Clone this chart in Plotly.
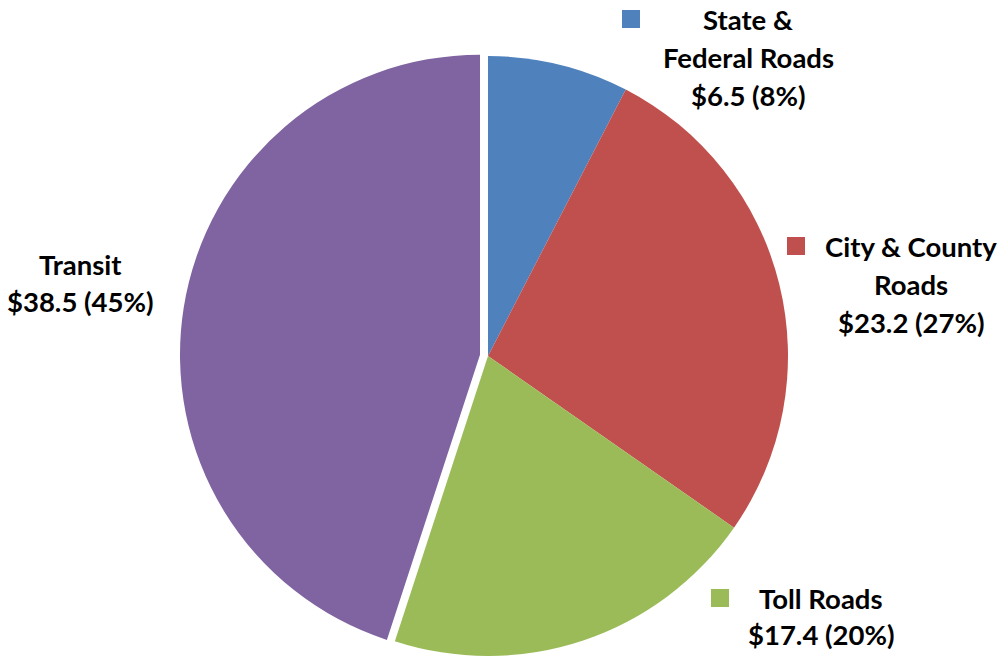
import plotly.graph_objects as go

# ---- data ----
categories = ["State & Federal Roads", "City & County Roads", "Toll Roads", "Transit"]
label_lines = [["State &", "Federal Roads"], ["City & County", "Roads"], ["Toll Roads"], ["Transit"]]
values = [6.5, 23.2, 17.4, 38.5]

# ---- styles / layout ----
colors = ["#4F81BD", "#C0504D", "#9BBB59", "#8064A2"]
W, H = 1001, 656
cx, cy, r = 488, 356, 300          # pie centre and radius (px)
explode_idx = 3                     # Transit slice is pulled out
ex_dx, ex_dy = -8, -1.3             # offset of the pulled slice (px)
# label anchors: (centre x, [baselines], square top-left or None)
label_pos = [(748, [30, 68, 106], (622, 10)),
             (911, [257, 295, 333], (787, 237)),
             (821, [609, 645], (711, 589)),
             (80, [275, 312], None)]
sq = 18
fs = 27.5
font = dict(family="Lato", size=fs, color="#000000", weight="bold")


def dom(x, y, rad):
    return dict(x=[max(0, (x - rad) / W), min(1, (x + rad) / W)],
                y=[max(0, 1 - (y + rad) / H), min(1, 1 - (y - rad) / H)])


transparent = "rgba(0,0,0,0)"
colors_main = [c if i != explode_idx else transparent for i, c in enumerate(colors)]
colors_expl = [c if i == explode_idx else transparent for i, c in enumerate(colors)]

fig = go.Figure()
for cols, (x, y) in [(colors_main, (cx, cy)), (colors_expl, (cx + ex_dx, cy + ex_dy))]:
    fig.add_trace(go.Pie(
        labels=categories, values=values, sort=False, direction="clockwise",
        rotation=0, textinfo="none", hoverinfo="label+value+percent",
        marker=dict(colors=cols, line=dict(width=0)),
        domain=dom(x, y, r), showlegend=False,
    ))

total = sum(values)
annotations = []
shapes = []
for i, (xc, baselines, sqpos) in enumerate(label_pos):
    pct = values[i] / total * 100
    lines = label_lines[i] + [f"${values[i]:.1f} ({pct:.0f}%)"]
    for text, base in zip(lines, baselines):
        annotations.append(dict(
            x=xc / W, y=1 - (base - 0.38 * fs) / H, xref="paper", yref="paper",
            text=text, showarrow=False, xanchor="center", yanchor="middle",
            font=font))
    if sqpos is not None:
        sx, sy = sqpos
        shapes.append(dict(type="rect", xref="paper", yref="paper",
                           x0=sx / W, x1=(sx + sq) / W,
                           y0=1 - (sy + sq) / H, y1=1 - sy / H,
                           fillcolor=colors[i], line=dict(width=0)))

fig.update_layout(
    width=W, height=H, margin=dict(l=0, r=0, t=0, b=0),
    paper_bgcolor="#FFFFFF", plot_bgcolor="#FFFFFF",
    annotations=annotations, shapes=shapes,
)

fig.write_html("out.html")
